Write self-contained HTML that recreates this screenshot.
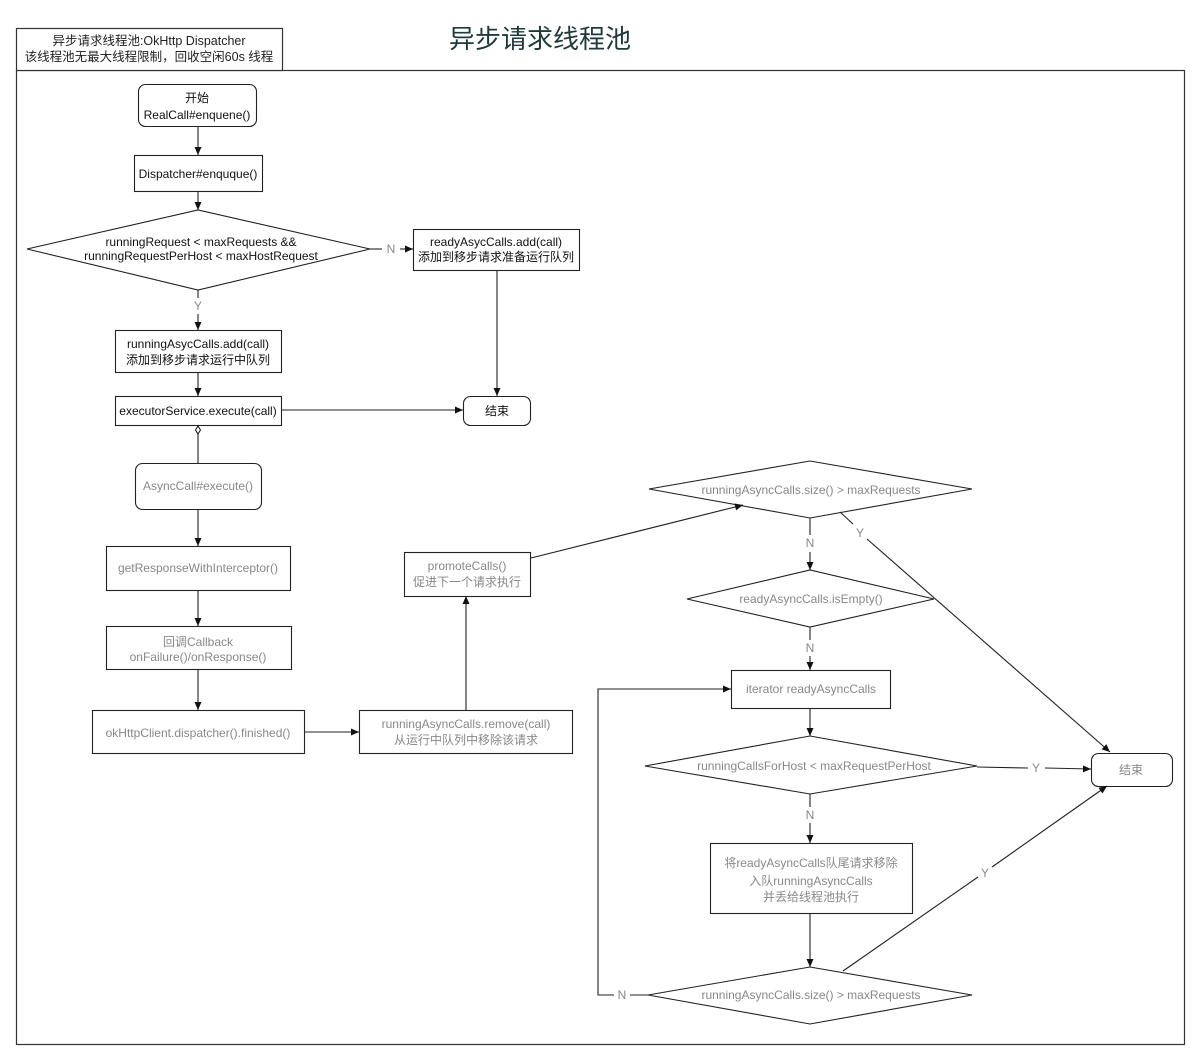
<!DOCTYPE html>
<html><head><meta charset="utf-8"><style>
html,body{margin:0;padding:0;background:#fff;}
svg text{font-family:"Liberation Sans","Noto Sans CJK SC",sans-serif;}
</style></head><body>
<svg width="1200" height="1058" viewBox="0 0 1200 1058" xmlns="http://www.w3.org/2000/svg">
<defs>
<marker id="a" markerWidth="10" markerHeight="10" refX="9" refY="5" orient="auto" markerUnits="userSpaceOnUse"><path d="M1,1.5 L9,5 L1,8.5 z" fill="#111"/></marker>
<marker id="d" markerWidth="10" markerHeight="10" refX="1" refY="5" orient="auto" markerUnits="userSpaceOnUse"><path d="M1,5 L5,2.5 L9,5 L5,7.5 z" fill="#fff" stroke="#111" stroke-width="1"/></marker>
</defs>
<rect x="0" y="0" width="1200" height="1058" fill="#fff"/>
<!-- frames -->
<rect x="16.5" y="70.5" width="1168" height="974" fill="none" stroke="#333" stroke-width="1.2"/>
<rect x="16.5" y="28.5" width="266" height="42" fill="#fff" stroke="#333" stroke-width="1.2"/>
<text x="149" y="45" font-size="12.5" text-anchor="middle" fill="#222">异步请求线程池:OkHttp Dispatcher</text>
<text x="149" y="61" font-size="12.5" text-anchor="middle" fill="#222">该线程池无最大线程限制，回收空闲60s 线程</text>
<text x="540" y="48" font-size="26" text-anchor="middle" fill="#1e3a3a">异步请求线程池</text>

<g stroke="#222" stroke-width="1.1" fill="#fff">
<rect x="138.5" y="84.5" width="118" height="42" rx="7"/>
<rect x="134.5" y="155.5" width="128" height="36"/>
<polygon points="27,249 198,210 370,249 198,290"/>
<rect x="413.5" y="229.5" width="166" height="41"/>
<rect x="115.5" y="330.5" width="166" height="42"/>
<rect x="115.5" y="396.5" width="166" height="29"/>
<rect x="463.5" y="396.5" width="67" height="29" rx="7"/>
<rect x="135.5" y="463.5" width="126" height="46" rx="7"/>
<rect x="106.5" y="546.5" width="184" height="44"/>
<rect x="106.5" y="626.5" width="185" height="43"/>
<rect x="92.5" y="710.5" width="212" height="43"/>
<rect x="359.5" y="710.5" width="213" height="43"/>
<rect x="404.5" y="552.5" width="126" height="44"/>
<polygon points="649,489 810,461 972,489 810,518"/>
<polygon points="687,599 810,570 934,599 810,627"/>
<rect x="731.5" y="670.5" width="159" height="38"/>
<polygon points="645,766 810,736 977,766 810,794"/>
<rect x="1091.5" y="753.5" width="81" height="33" rx="7"/>
<rect x="710.5" y="843.5" width="202" height="70"/>
<polygon points="648,995 810,967 972,995 810,1024"/>
</g>

<g stroke="#222" stroke-width="1.1" fill="none">
<line x1="198" y1="127" x2="198" y2="155" marker-end="url(#a)"/>
<line x1="198" y1="192" x2="198" y2="210" marker-end="url(#a)"/>
<line x1="370" y1="249" x2="382" y2="249"/>
<line x1="400" y1="249" x2="413" y2="249" marker-end="url(#a)"/>
<line x1="497" y1="271" x2="497" y2="396" marker-end="url(#a)"/>
<line x1="198" y1="290" x2="198" y2="298"/>
<line x1="198" y1="314" x2="198" y2="330" marker-end="url(#a)"/>
<line x1="198" y1="373" x2="198" y2="396" marker-end="url(#a)"/>
<line x1="282" y1="410" x2="463" y2="410" marker-end="url(#a)"/>
<line x1="198" y1="426" x2="198" y2="463" marker-start="url(#d)"/>
<line x1="198" y1="510" x2="198" y2="546" marker-end="url(#a)"/>
<line x1="198" y1="591" x2="198" y2="626" marker-end="url(#a)"/>
<line x1="198" y1="670" x2="198" y2="710" marker-end="url(#a)"/>
<line x1="305" y1="732" x2="359" y2="732" marker-end="url(#a)"/>
<line x1="466" y1="710" x2="466" y2="596" marker-end="url(#a)"/>
<line x1="531" y1="558" x2="743" y2="505" marker-end="url(#a)"/>
<line x1="810" y1="518" x2="810" y2="535"/>
<line x1="810" y1="552" x2="810" y2="570" marker-end="url(#a)"/>
<line x1="810" y1="627" x2="810" y2="640"/>
<line x1="810" y1="656" x2="810" y2="670" marker-end="url(#a)"/>
<line x1="810" y1="709" x2="810" y2="736" marker-end="url(#a)"/>
<line x1="977" y1="767" x2="1028" y2="768"/>
<line x1="1045" y1="768" x2="1091" y2="769" marker-end="url(#a)"/>
<line x1="810" y1="794" x2="810" y2="807"/>
<line x1="810" y1="823" x2="810" y2="843" marker-end="url(#a)"/>
<line x1="810" y1="914" x2="810" y2="967" marker-end="url(#a)"/>
<line x1="648" y1="995" x2="630" y2="995"/>
<polyline points="614,995 598,995 598,689 731,689" marker-end="url(#a)"/>
<line x1="843" y1="971" x2="978" y2="877"/>
<line x1="992" y1="867" x2="1107" y2="786" marker-end="url(#a)"/>
<line x1="840" y1="512" x2="853" y2="524"/>
<line x1="867" y1="539" x2="1110" y2="752" marker-end="url(#a)"/>
</g>

<g font-size="12" text-anchor="middle" fill="#111">
<text x="197" y="102">开始</text>
<text x="197" y="119">RealCall#enquene()</text>
<text x="198" y="178">Dispatcher#enquque()</text>
<text x="201" y="246">runningRequest &lt; maxRequests &amp;&amp;</text>
<text x="201" y="260">runningRequestPerHost &lt; maxHostRequest</text>
<text x="496" y="246">readyAsycCalls.add(call)</text>
<text x="496" y="261">添加到移步请求准备运行队列</text>
<text x="198" y="348">runningAsycCalls.add(call)</text>
<text x="198" y="364">添加到移步请求运行中队列</text>
<text x="198" y="415">executorService.execute(call)</text>
<text x="497" y="415">结束</text>
</g>
<g font-size="12" text-anchor="middle" fill="#888">
<text x="391" y="253">N</text>
<text x="198" y="310">Y</text>
<text x="198" y="490">AsyncCall#execute()</text>
<text x="198" y="572">getResponseWithInterceptor()</text>
<text x="198" y="646">回调Callback</text>
<text x="198" y="661">onFailure()/onResponse()</text>
<text x="198" y="737">okHttpClient.dispatcher().finished()</text>
<text x="466" y="728">runningAsyncCalls.remove(call)</text>
<text x="466" y="744">从运行中队列中移除该请求</text>
<text x="467" y="570">promoteCalls()</text>
<text x="467" y="586">促进下一个请求执行</text>
<text x="811" y="494">runningAsyncCalls.size() &gt; maxRequests</text>
<text x="810" y="547">N</text>
<text x="860" y="537">Y</text>
<text x="811" y="603">readyAsyncCalls.isEmpty()</text>
<text x="810" y="652">N</text>
<text x="811" y="693">iterator readyAsyncCalls</text>
<text x="814" y="770">runningCallsForHost &lt; maxRequestPerHost</text>
<text x="1036" y="772">Y</text>
<text x="1131" y="774">结束</text>
<text x="810" y="819">N</text>
<text x="811" y="867">将readyAsyncCalls队尾请求移除</text>
<text x="811" y="885">入队runningAsyncCalls</text>
<text x="811" y="901">并丢给线程池执行</text>
<text x="811" y="999">runningAsyncCalls.size() &gt; maxRequests</text>
<text x="622" y="999">N</text>
<text x="985" y="877">Y</text>
</g>
</svg>
</body></html>
